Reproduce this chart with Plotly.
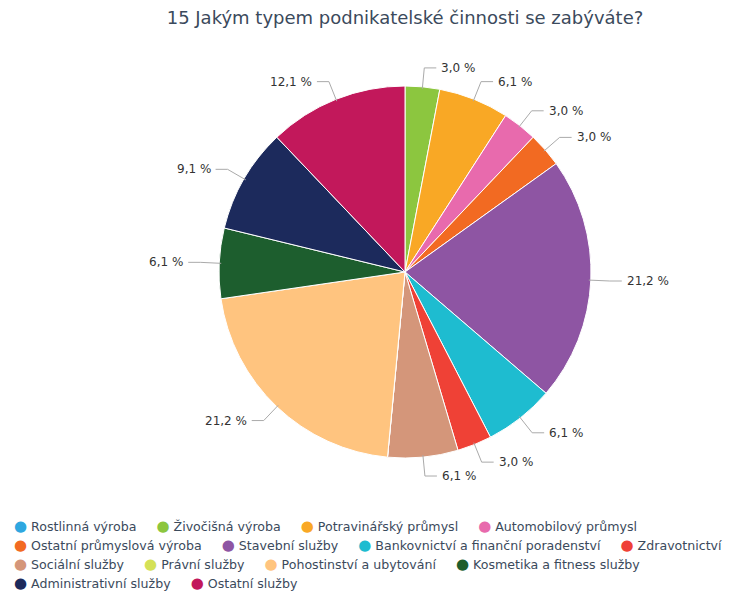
# Pie chart: 15 Jakým typem podnikatelské činnosti se zabýváte?
import math
import plotly.graph_objects as go

labels = ["Rostlinná výroba", "Živočišná výroba", "Potravinářský průmysl",
          "Automobilový průmysl", "Ostatní průmyslová výroba", "Stavební služby",
          "Bankovnictví a finanční poradenství", "Zdravotnictví", "Sociální služby",
          "Právní služby", "Pohostinství a ubytování", "Kosmetika a fitness služby",
          "Administrativní služby", "Ostatní služby"]
values = [0.0, 3.0, 6.1, 3.0, 3.0, 21.2, 6.1, 3.0, 6.1, 0.0, 21.2, 6.1, 9.1, 12.1]
colors = ["#2ea7e0", "#8cc63f", "#f9a825", "#e86aad", "#f26a22", "#8e55a3",
          "#1ebcd0", "#ef4136", "#d4967a", "#d4e157", "#ffc47f", "#1d5e2e",
          "#1c2a5c", "#c2185b"]
legend_rows = [[0, 1, 2, 3], [4, 5, 6, 7], [8, 9, 10, 11], [12, 13]]

W, H = 741, 592
cx, cy, r = 405, 272, 186      # pie centre / radius in pixels
lab_r = 205                    # radius where the connector bends
elbow = 12                     # horizontal part of the connector


def px(x, y):
    # pixel position -> paper coordinates
    return x / W, 1 - y / H


fig = go.Figure(go.Pie(
    labels=labels,
    values=values,
    sort=False,
    direction="clockwise",
    rotation=0,
    marker=dict(colors=colors, line=dict(color="white", width=1)),
    textinfo="none",
    hoverinfo="label+value",
    showlegend=False,
    domain=dict(x=[(cx - r) / W, (cx + r) / W],
                y=[1 - (cy + r) / H, 1 - (cy - r) / H]),
))

# percentage labels with bent connector lines
total = sum(values)
cum = 0.0
for v in values:
    if v > 0:
        ang = (cum + v / 2) / total * 2 * math.pi
        s, c = math.sin(ang), math.cos(ang)
        side = 1 if s >= 0 else -1
        p1 = px(cx + (r - 2) * s, cy - (r - 2) * c)
        p2 = px(cx + lab_r * s, cy - lab_r * c)
        p3 = px(cx + lab_r * s + side * elbow, cy - lab_r * c)
        fig.add_shape(type="path", xref="paper", yref="paper",
                      path=f"M {p1[0]},{p1[1]} L {p2[0]},{p2[1]} L {p3[0]},{p3[1]}",
                      line=dict(color="#aaaaaa", width=1))
        tx, ty = px(cx + lab_r * s + side * (elbow + 3), cy - lab_r * c)
        fig.add_annotation(
            xref="paper", yref="paper", x=tx, y=ty,
            text=f"{v:.1f} %".replace(".", ","), showarrow=False,
            xanchor="left" if side > 0 else "right", yanchor="middle",
            font=dict(family="DejaVu Sans", size=12, color="#333333"),
        )
    cum += v

# legend drawn as rows of text with coloured dots
row_y = [526, 545, 564, 583]
gap = "\u00a0" * 5
for ry, row in zip(row_y, legend_rows):
    parts = [f'<span style="color:{colors[i]};font-size:15px">●</span>\u00a0{labels[i]}'
             for i in row]
    fig.add_annotation(
        xref="paper", yref="paper", x=12 / W, y=1 - ry / H,
        text=gap.join(parts), showarrow=False,
        xanchor="left", yanchor="middle", align="left",
        font=dict(family="DejaVu Sans", size=12.6, color="#3b4a5c"),
    )

fig.update_layout(
    width=W, height=H,
    font=dict(family="DejaVu Sans", color="#3b4a5c"),
    title=dict(text="15 Jakým typem podnikatelské činnosti se zabýváte?",
               x=cx / W, xanchor="center", y=1 - 18 / H, yanchor="middle",
               font=dict(size=18, color="#3b4a5c")),
    margin=dict(l=0, r=0, t=0, b=0),
    paper_bgcolor="white",
)

fig.write_html("out.html", config={"displayModeBar": False},
               post_script="document.body.style.margin = '0';")
